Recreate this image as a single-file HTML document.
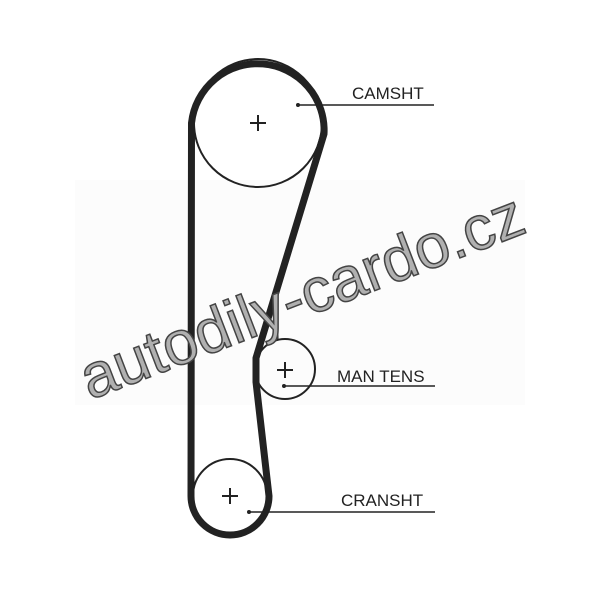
<!DOCTYPE html>
<html><head><style>body{margin:0;background:#fff}svg{display:block}</style></head>
<body>
<svg width="600" height="589" viewBox="0 0 600 589" xmlns="http://www.w3.org/2000/svg">
<rect x="75" y="180" width="450" height="225" fill="#fcfcfc"/>
<g fill="none" stroke="#222">
<circle cx="258" cy="123" r="64" stroke-width="2"/>
<circle cx="285" cy="369" r="30" stroke-width="2"/>
<circle cx="230" cy="496" r="37" stroke-width="2"/>
<path d="M191.5,123 A66.5,66.5 0 0 1 324,134 L256,358 L256,382 L269,496 A39,39 0 0 1 191,496 Z" stroke-width="7" stroke-linejoin="round"/>
<g stroke-width="2">
<path d="M250,123h16M258,115v16"/>
<path d="M277,370h16M285,362v16"/>
<path d="M222,496h16M230,488v16"/>
</g>
<g stroke-width="1.5">
<path d="M298,105H434"/>
<path d="M284,386H435"/>
<path d="M249,512H435"/>
<path d="M278,304V340" stroke-width="1"/>
</g>
</g>
<g fill="#222"><circle cx="298" cy="105" r="2"/><circle cx="284" cy="386" r="2"/><circle cx="249" cy="512" r="2"/></g>
<g font-family="Liberation Sans, sans-serif" font-size="17" fill="#222">
<text x="352" y="99">CAMSHT</text>
<text x="337" y="382">MAN TENS</text>
<text x="341" y="506">CRANSHT</text>
</g>
<text transform="translate(90,400) rotate(-21)" font-family="Liberation Sans, sans-serif" font-size="62" fill="#b0b0b0" stroke="#444" stroke-width="1.5" textLength="470" lengthAdjust="spacingAndGlyphs">autodily-cardo.cz</text>
</svg>
</body></html>
